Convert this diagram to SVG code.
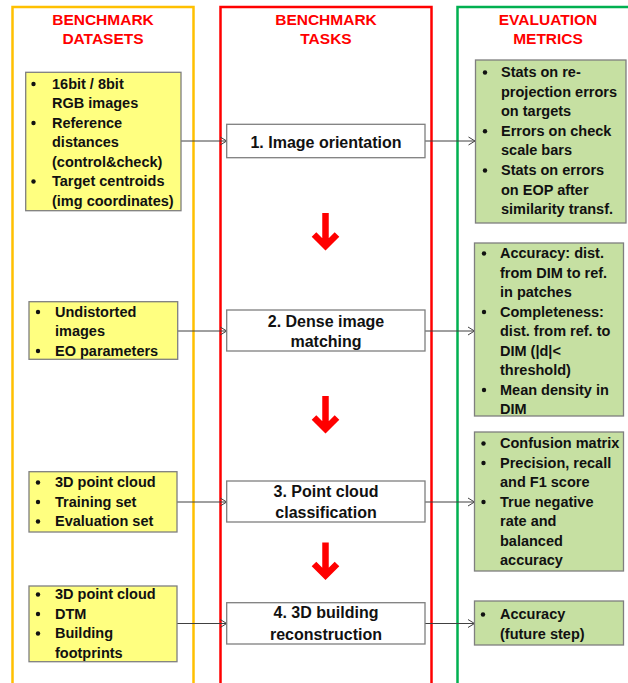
<svg xmlns="http://www.w3.org/2000/svg" width="628" height="683" viewBox="0 0 628 683">
<defs>
<style>
.col{fill:#fff;stroke-width:2.5}
.ttl{font-family:"Liberation Sans",Arial,sans-serif;font-weight:bold;font-size:15.5px;fill:#ff0000;text-anchor:middle}
.yb{fill:#ffff80;stroke:#7f7f7f;stroke-width:1.3}
.gb{fill:#c6e0a2;stroke:#7f7f7f;stroke-width:1.3}
.tb{fill:#fff;stroke:#7f7f7f;stroke-width:1.3}
.t{font-family:"Liberation Sans",Arial,sans-serif;font-weight:bold;font-size:14.5px;fill:#111}
.tt{font-family:"Liberation Sans",Arial,sans-serif;font-weight:bold;font-size:16px;fill:#111;text-anchor:middle}
.con{stroke:#404040;stroke-width:1;fill:none;marker-end:url(#ah)}
.ra{stroke:#ff0000;stroke-width:6.5;fill:none;stroke-linejoin:miter}
</style>
<marker id="ah" viewBox="0 0 8 10" refX="7.5" refY="5" markerWidth="8" markerHeight="10" markerUnits="userSpaceOnUse" orient="auto">
<path d="M1,1 L7.5,5 L1,9" fill="none" stroke="#404040" stroke-width="1"/>
</marker>
<g id="redarrow"><path class="ra" d="M0,0 V31 M-11.5,21.5 L0,33 L11.5,21.5"/></g>
</defs>
<g id="columns">
<rect class="col" x="12.5" y="7" width="181" height="700" stroke="#ffc000"/>
<rect class="col" x="220.5" y="7" width="211" height="700" stroke="#ff0000"/>
<rect class="col" x="457.5" y="7" width="190" height="700" stroke="#00b050"/>
<text class="ttl" x="103" y="24.5">BENCHMARK</text>
<text class="ttl" x="103" y="43.5">DATASETS</text>
<text class="ttl" x="326" y="24.5">BENCHMARK</text>
<text class="ttl" x="326" y="43.5">TASKS</text>
<text class="ttl" x="548" y="24.5">EVALUATION</text>
<text class="ttl" x="548" y="43.5">METRICS</text>
</g>
<g id="connectors">
<path class="con" d="M181,141 H226.7"/>
<path class="con" d="M425,141 H475"/>
<path class="con" d="M177.7,331 H226.7"/>
<path class="con" d="M425,331 H474.5"/>
<path class="con" d="M177,502 H226.7"/>
<path class="con" d="M425,502 H474.5"/>
<path class="con" d="M177,623.5 H226.7"/>
<path class="con" d="M425,623.5 H474.5"/>
<use href="#redarrow" x="325.5" y="213"/>
<use href="#redarrow" x="325.5" y="396"/>
<use href="#redarrow" x="325.5" y="542.5"/>
</g>
<g id="data1">
<rect class="yb" x="25.7" y="72.3" width="155.3" height="138.4"/>
<g fill="#111"><circle cx="33.5" cy="84" r="2.2"/><circle cx="33.5" cy="123" r="2.2"/><circle cx="33.5" cy="181.5" r="2.2"/></g>
<text class="t" x="52" y="88.5">16bit / 8bit</text>
<text class="t" x="52" y="108">RGB images</text>
<text class="t" x="52" y="127.5">Reference</text>
<text class="t" x="52" y="147">distances</text>
<text class="t" x="52" y="166.5">(control&amp;check)</text>
<text class="t" x="52" y="186">Target centroids</text>
<text class="t" x="52" y="205.5">(img coordinates)</text>
</g>
<g id="data2">
<rect class="yb" x="29" y="301.7" width="148.7" height="57.6"/>
<g fill="#111"><circle cx="38" cy="312" r="2.2"/><circle cx="38" cy="351" r="2.2"/></g>
<text class="t" x="55" y="316.5">Undistorted</text>
<text class="t" x="55" y="336">images</text>
<text class="t" x="55" y="355.5">EO parameters</text>
</g>
<g id="data3">
<rect class="yb" x="29" y="471.7" width="148" height="60.3"/>
<g fill="#111"><circle cx="38" cy="482.5" r="2.2"/><circle cx="38" cy="502" r="2.2"/><circle cx="38" cy="521.5" r="2.2"/></g>
<text class="t" x="55" y="487">3D point cloud</text>
<text class="t" x="55" y="506.5">Training set</text>
<text class="t" x="55" y="526">Evaluation set</text>
</g>
<g id="data4">
<rect class="yb" x="29" y="586" width="148" height="75.7"/>
<g fill="#111"><circle cx="38" cy="594.5" r="2.2"/><circle cx="38" cy="614" r="2.2"/><circle cx="38" cy="633.5" r="2.2"/></g>
<text class="t" x="55" y="599">3D point cloud</text>
<text class="t" x="55" y="618.5">DTM</text>
<text class="t" x="55" y="638">Building</text>
<text class="t" x="55" y="657.5">footprints</text>
</g>
<g id="task1">
<rect class="tb" x="226.7" y="124.3" width="198.3" height="33.4"/>
<text class="tt" x="326" y="147.5">1. Image orientation</text>
</g>
<g id="task2">
<rect class="tb" x="226.7" y="310" width="198.3" height="41"/>
<text class="tt" x="326" y="326.5">2. Dense image</text>
<text class="tt" x="326" y="347">matching</text>
</g>
<g id="task3">
<rect class="tb" x="226.7" y="481" width="198.3" height="41"/>
<text class="tt" x="326" y="496.5">3. Point cloud</text>
<text class="tt" x="326" y="518">classification</text>
</g>
<g id="task4">
<rect class="tb" x="226.7" y="602.7" width="198.3" height="41.3"/>
<text class="tt" x="326" y="618">4. 3D building</text>
<text class="tt" x="326" y="640">reconstruction</text>
</g>
<g id="metric1">
<rect class="gb" x="475.5" y="60" width="150.5" height="163"/>
<g fill="#111"><circle cx="485" cy="72.5" r="2.2"/><circle cx="485" cy="131.3" r="2.2"/><circle cx="485" cy="170.5" r="2.2"/></g>
<text class="t" x="501" y="77">Stats on re-</text>
<text class="t" x="501" y="96.6">projection errors</text>
<text class="t" x="501" y="116.2">on targets</text>
<text class="t" x="501" y="135.8">Errors on check</text>
<text class="t" x="501" y="155.4">scale bars</text>
<text class="t" x="501" y="175">Stats on errors</text>
<text class="t" x="501" y="194.6">on EOP after</text>
<text class="t" x="501" y="214.2">similarity transf.</text>
</g>
<g id="metric2">
<rect class="gb" x="474.5" y="243" width="149" height="173"/>
<g fill="#111"><circle cx="484" cy="253.5" r="2.2"/><circle cx="484" cy="312" r="2.2"/><circle cx="484" cy="390" r="2.2"/></g>
<text class="t" x="500" y="258">Accuracy: dist.</text>
<text class="t" x="500" y="277.5">from DIM to ref.</text>
<text class="t" x="500" y="297">in patches</text>
<text class="t" x="500" y="316.5">Completeness:</text>
<text class="t" x="500" y="336">dist. from ref. to</text>
<text class="t" x="500" y="355.5">DIM (|d|&lt;</text>
<text class="t" x="500" y="375">threshold)</text>
<text class="t" x="500" y="394.5">Mean density in</text>
<text class="t" x="500" y="414">DIM</text>
</g>
<g id="metric3">
<rect class="gb" x="474.5" y="432" width="149" height="139"/>
<g fill="#111"><circle cx="483.5" cy="443.5" r="2.2"/><circle cx="483.5" cy="463" r="2.2"/><circle cx="483.5" cy="502" r="2.2"/></g>
<text class="t" x="500" y="448">Confusion matrix</text>
<text class="t" x="500" y="467.5">Precision, recall</text>
<text class="t" x="500" y="487">and F1 score</text>
<text class="t" x="500" y="506.5">True negative</text>
<text class="t" x="500" y="526">rate and</text>
<text class="t" x="500" y="545.5">balanced</text>
<text class="t" x="500" y="565">accuracy</text>
</g>
<g id="metric4">
<rect class="gb" x="474.5" y="601" width="149" height="44"/>
<g fill="#111"><circle cx="483" cy="614.5" r="2.2"/></g>
<text class="t" x="500" y="619">Accuracy</text>
<text class="t" x="500" y="638.5">(future step)</text>
</g>
</svg>
